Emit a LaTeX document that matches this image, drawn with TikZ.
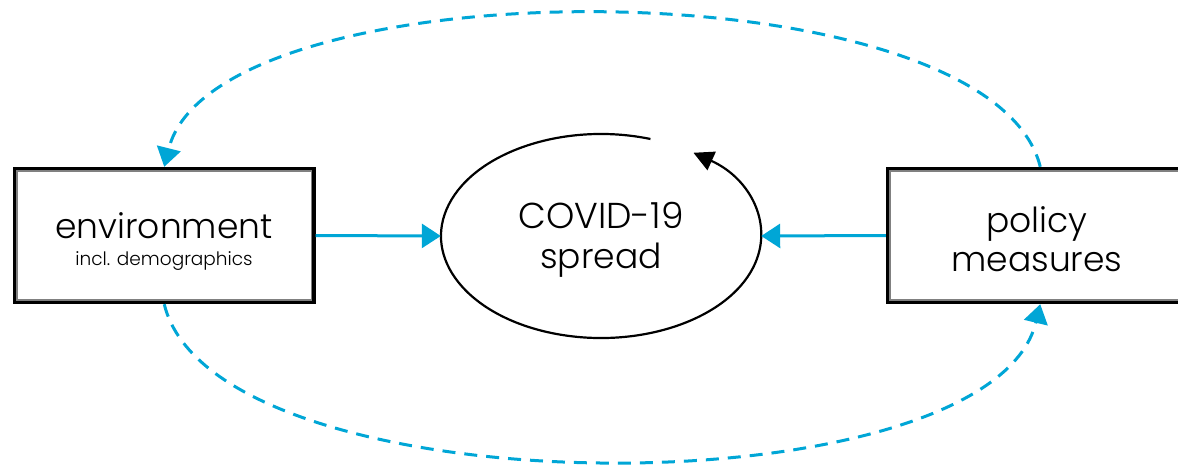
\documentclass[tikz,border=0pt]{standalone}
\usepackage{fontspec}
\setmainfont{Poppins Light}
\usetikzlibrary{arrows.meta,shapes.geometric}
\definecolor{flow}{HTML}{00A6D6}
\begin{document}
\begin{tikzpicture}[x=1pt,y=1pt,
  box/.style={draw=black,line width=3.4pt,minimum width=299.5pt,minimum height=134pt,inner sep=0pt},
  innerline/.style={draw=gray,line width=1.1pt},
  big/.style={font=\fontsize{34.5}{34.5}\selectfont,inner sep=0pt,anchor=base},
  small/.style={font=\fontsize{18.5}{18.5}\selectfont,inner sep=0pt,anchor=base},
  flowarrow/.style={draw=flow,line width=3pt,-{Triangle[length=19pt,width=24pt]}},
  feedback/.style={flowarrow,dash pattern=on 13pt off 9pt},
  loop/.style={draw=black,line width=2.2pt,-{Triangle[length=20pt,width=20pt]}}]
\useasboundingbox (0,0) rectangle (1178,-466);

% the two boxes with their double frame
\node[box] (env) at (164.25,-235.5) {};
\draw[innerline] ([shift={(4.2,-4.2)}]env.north west) rectangle ([shift={(-4.2,4.2)}]env.south east);
\node[box] (pol) at (1037.25,-235.5) {};
\draw[innerline] ([shift={(4.2,-4.2)}]pol.north west) rectangle ([shift={(-4.2,4.2)}]pol.south east);

% labels
\node[big] (envtxt) at (164,-238) {environment};
\node[small] (envsub) at (164,-265) {incl. demographics};
\node[big] (poltxt) at (1037,-232) {policy};
\node[big] (polsub) at (1037,-271) {measures};

% central ellipse
\node[ellipse,minimum width=320pt,minimum height=204pt,inner sep=0pt] (spread) at (601,-236) {};
\node[big,font=\fontsize{36}{36}\selectfont] (covtxt) at (601,-228) {COVID-19};
\node[big] (sprtxt) at (601,-268) {spread};
\draw[loop] (spread.center) ++(72:160 and 102)
  arc[start angle=72,end angle=414.7,x radius=160,y radius=102];

% direct influences
\draw[flowarrow] (env.east) -- (spread.west);
\draw[flowarrow] (pol.west) -- (spread.east);

% feedback loops
\draw[feedback] ([xshift=3pt]pol.north) .. controls (990,37) and (215,37) .. (env.north);
\draw[feedback] (env.south) .. controls (215,-513) and (990,-513) .. ([xshift=3pt]pol.south);
\end{tikzpicture}
\end{document}
